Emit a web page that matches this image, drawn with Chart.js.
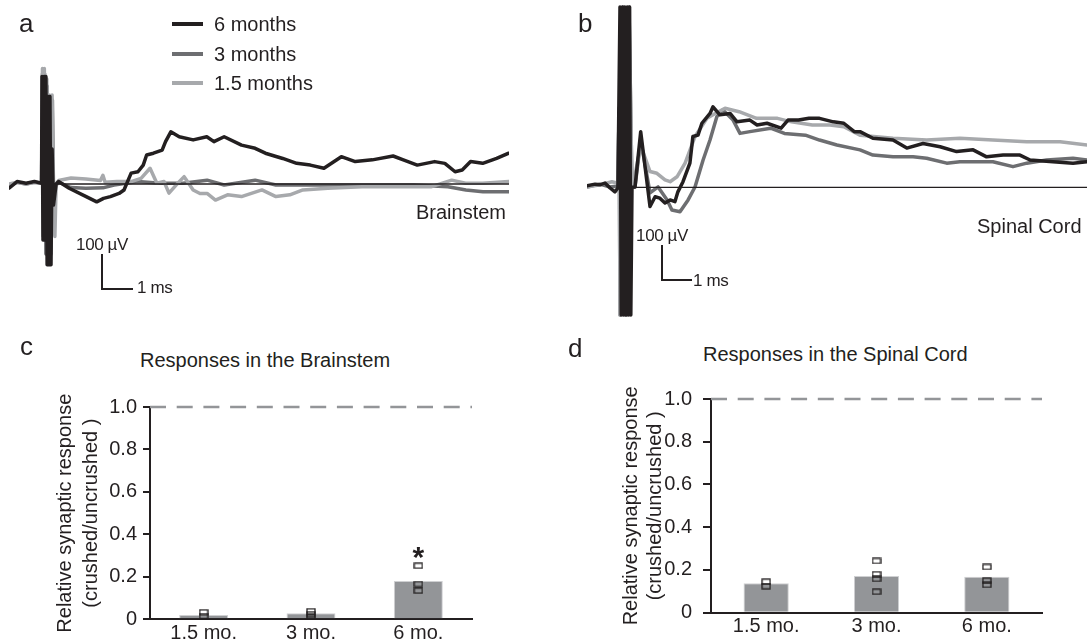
<!DOCTYPE html>
<html><head><meta charset="utf-8">
<script src="https://cdn.jsdelivr.net/npm/chart.js@4.4.1/dist/chart.umd.min.js"></script>
<style>
html,body{margin:0;padding:0;background:#fff;}
#fig{position:relative;width:1087px;height:642px;overflow:hidden;background:#fff;font-family:'Liberation Sans',Arial,Helvetica,sans-serif;color:#231f20;}
#fig canvas{position:absolute;}
.t{position:absolute;white-space:nowrap;line-height:1;}
.lg{position:absolute;height:4px;width:31px;left:172px;}
</style></head><body>
<div id="fig">
  <canvas id="ca" width="500" height="320" style="left:9px;top:0px"></canvas>
  <canvas id="cb" width="500" height="320" style="left:587px;top:0px"></canvas>
  <canvas id="cc" width="490" height="262" style="left:0px;top:380px"></canvas>
  <canvas id="cd" width="527" height="272" style="left:560px;top:370px"></canvas>

  <div class="t" style="left:19px;top:10px;font-size:26px">a</div>
  <div class="t" style="left:578px;top:10px;font-size:26px">b</div>
  <div class="t" style="left:20px;top:333px;font-size:26px">c</div>
  <div class="t" style="left:568px;top:335px;font-size:26px">d</div>

  <div class="lg" style="top:22px;background:#231f20"></div>
  <div class="lg" style="top:52px;background:#6d6e71"></div>
  <div class="lg" style="top:81px;background:#a7a9ac"></div>
  <div class="t" style="left:214px;top:14px;font-size:20px">6 months</div>
  <div class="t" style="left:214px;top:44px;font-size:20px">3 months</div>
  <div class="t" style="left:214px;top:73px;font-size:20px">1.5 months</div>

  <div class="t" style="left:416px;top:202px;font-size:20px">Brainstem</div>
  <div class="t" style="left:977px;top:216px;font-size:20px">Spinal Cord</div>

  <div class="t" style="left:102px;top:236px;font-size:17px;transform:translateX(-50%);letter-spacing:-0.4px">100 µV</div>
  <div class="t" style="left:137px;top:279px;font-size:17px;letter-spacing:-0.4px">1 ms</div>
  <div class="t" style="left:662px;top:227px;font-size:17px;transform:translateX(-50%);letter-spacing:-0.4px">100 µV</div>
  <div class="t" style="left:693px;top:272px;font-size:17px;letter-spacing:-0.4px">1 ms</div>

  <div class="t" style="left:140px;top:350px;font-size:20px">Responses in the Brainstem</div>
  <div class="t" style="left:703px;top:344px;font-size:20px">Responses in the Spinal Cord</div>
</div>
<script>
// ---------- DATA ----------
// Panel a: brainstem recordings, [time (ms), voltage (µV)]
const brainstem6mo = [[0,-12],[0.26,7],[0.55,2],[0.82,7],[1.05,2],
  [1.065,307],[1.097,-160],[1.13,307],[1.16,-160],[1.19,307],[1.23,-231],[1.26,250],[1.29,-231],[1.32,250],[1.355,-231],[1.39,100],[1.435,-60],[1.52,0],
  [1.6,7],[1.94,-12],[2.49,-36],[2.83,-51],[3.05,-41],[3.27,-36],[3.55,-27],[3.71,-17],[3.94,31],[4.16,35],[4.33,54],[4.44,83],[4.66,88],[4.94,97],
  [5.05,121],[5.22,149],[5.49,135],[5.94,126],[6.38,135],[6.61,121],[6.94,135],[7.5,111],[7.94,102],[8.27,88],[8.83,73],[9.28,59],[9.72,54],
  [10.16,45],[10.72,78],[11.17,64],[11.72,69],[12.39,80],[12.72,69],[13.17,54],[13.73,64],[14.06,59],[14.39,35],[14.62,40],[14.89,64],[15.28,59],[15.73,73],[16.12,88]];
const brainstem3mo = [[0,-5],[0.26,5],[0.55,0],[0.82,5],[1.05,2],
  [1.08,315],[1.11,-150],[1.15,315],[1.19,-200],[1.23,280],[1.27,-220],[1.31,250],[1.35,-200],[1.4,240],[1.45,-120],[1.5,-5],
  [1.6,5],[2.0,-10],[2.48,-12],[3.03,-11],[3.39,-3],[4.16,7],[4.87,2],[5.61,2],[6.39,11],[6.94,-3],[7.94,11],[8.61,-3],[9.71,-3],
  [10.84,-3],[11.94,-3],[13.06,-3],[14.16,-8],[14.74,-17],[15.29,-22],[16.12,-22]];
const brainstem1_5mo = [[0,0],[0.26,5],[0.55,0],[0.82,5],[1.05,3],
  [1.08,330],[1.11,-150],[1.14,330],[1.18,-150],[1.22,300],[1.26,-200],[1.3,254],[1.34,-200],[1.39,254],[1.44,-100],[1.48,-150],[1.52,0],
  [1.6,10],[2.0,17],[2.48,14],[2.95,10],[3.03,25],[3.1,5],[3.48,7],[3.94,7],[4.26,16],[4.55,45],[4.77,2],[5,7],[5.16,-26],[5.39,-3],
  [5.65,21],[5.94,-17],[6.16,-27],[6.39,-27],[6.66,-46],[7.05,-31],[7.5,-36],[8.16,-17],[8.61,-36],[9.06,-31],[9.48,-17],[10.28,-12],
  [11.39,-8],[12.5,-8],[13.61,-8],[14.28,11],[14.73,2],[15.28,2],[16.12,7]];

// Panel b: spinal cord recordings, [time (ms), voltage (µV)]
const spinal6mo = [[0,4],[0.27,9],[0.43,7],[0.6,12],[0.77,-2],[0.93,-13],[1.03,-2],
  [1.1,515],[1.14,-365],[1.18,515],[1.22,-365],[1.26,515],[1.3,-365],[1.34,515],[1.38,-365],[1.42,515],[1.46,-365],[1.5,0],
  [1.6,1],[1.79,159],[2.1,-55],[2.27,-27],[2.43,-31],[2.6,-45],[2.77,-36],[2.93,-41],[3.03,-13],[3.2,16],[3.43,69],[3.53,145],[3.7,149],
  [3.83,183],[4.1,211],[4.2,230],[4.43,207],[4.77,211],[5,187],[5.43,192],[5.67,178],[6,183],[6.47,169],[6.7,192],[7.05,192],[7.4,197],
  [7.75,197],[8.21,187],[8.56,183],[8.91,159],[9.1,159],[9.53,140],[10.2,135],[10.66,112],[11.2,125],[11.77,116],[12.32,102],[12.87,107],
  [13.32,87],[13.87,92],[14.43,92],[14.77,78],[15.53,73],[16.2,69],[16.67,73]];
const spinal3mo = [[0,1],[0.43,9],[0.77,1],[1.03,4],[1.07,227],[1.1,-365],[1.2,515],[1.3,-365],[1.4,515],[1.5,0],
  [1.6,1],[1.79,135],[2.1,-16],[2.37,1],[2.67,-36],[2.83,-65],[3.1,-70],[3.37,-36],[3.6,1],[3.87,78],[4.1,135],[4.33,202],[4.53,221],
  [4.87,192],[5.1,154],[5.43,159],[6.12,169],[6.58,154],[7.28,149],[7.75,135],[8.33,121],[9.1,107],[9.53,92],[10.2,87],[10.87,87],
  [11.32,83],[11.99,69],[12.43,73],[13.53,73],[14.2,59],[14.66,69],[15.32,78],[16.2,83],[16.67,78]];
const spinal1_5mo = [[0,1],[0.43,7],[0.83,16],[1.03,12],[1.07,225],[1.1,-365],[1.2,515],[1.3,-365],[1.4,515],[1.5,0],
  [1.6,35],[1.79,120],[2.1,45],[2.33,40],[2.6,21],[2.77,16],[3,30],[3.27,69],[3.6,145],[4,197],[4.2,207],[4.6,226],[5.07,216],
  [5.65,197],[6.35,197],[6.82,187],[7.51,178],[8.1,178],[8.56,173],[9.1,149],[10.2,140],[11.32,135],[12.43,140],[13.53,135],
  [14.66,130],[15.77,130],[16.67,121]];

const scaleBarMs = 1;     // horizontal scale bar
const scaleBarUv = 100;   // vertical scale bar

// Panels c, d: relative synaptic response (crushed/uncrushed)
const categories = ['1.5 mo.', '3 mo.', '6 mo.'];
const brainstemMeans = [0.02, 0.028, 0.18];
const brainstemPoints = [[0.033, 0.015], [0.038, 0.024, 0.01], [0.252, 0.166, 0.135]];
const brainstemSignif = ['', '', '*'];
const spinalMeans = [0.138, 0.172, 0.168];
const spinalPoints = [[0.145, 0.124], [0.242, 0.18, 0.158, 0.098], [0.214, 0.15, 0.13]];
const spinalSignif = ['', '', ''];
const yTickStep = 0.2;
const referenceLevel = 1.0;
const signifLevel = 0.323;
const yTitle = ['Relative synaptic response', '(crushed/uncrushed )'];

// ---------- DRAWING ----------
const INK = '#231f20', C6 = '#231f20', C3 = '#6d6e71', C15 = '#a7a9ac';
const FONT = "'Liberation Sans', Arial, Helvetica, sans-serif";
Chart.defaults.font.family = FONT;
Chart.defaults.color = INK;

const xy = arr => arr.map(p => ({x: p[0], y: p[1]}));

function traceChart(id, s, cfg) {
  return new Chart(document.getElementById(id), {
    type: 'line',
    data: { datasets: [
      {label: 'baseline', data: xy([[cfg.baseStart, 0], [cfg.xMax, 0]]), borderColor: INK, borderWidth: 1.3, order: -1},
      {label: 'scale', data: xy([[cfg.barT, cfg.barV], [cfg.barT, cfg.barV - scaleBarUv], [cfg.barT + scaleBarMs, cfg.barV - scaleBarUv]]),
        borderColor: INK, borderWidth: 2, order: -2, borderJoinStyle: 'miter', borderCapStyle: 'butt'},
      {label: '6 months', data: xy(s[0]), borderColor: C6, order: 0},
      {label: '1.5 months', data: xy(s[2]), borderColor: C15, order: 1},
      {label: '3 months', data: xy(s[1]), borderColor: C3, order: 2}
    ]},
    options: {
      responsive: false, animation: false, events: [],
      layout: {padding: 0},
      elements: {point: {radius: 0}, line: {tension: 0, borderWidth: 3.5, borderJoinStyle: 'round', borderCapStyle: 'round', fill: false}},
      plugins: {legend: {display: false}, tooltip: {enabled: false}},
      scales: {
        x: {type: 'linear', display: false, min: 0, max: cfg.xMax},
        y: {type: 'linear', display: false, min: cfg.yMin, max: cfg.yMax}
      }
    }
  });
}

traceChart('ca', [brainstem6mo, brainstem3mo, brainstem1_5mo],
  {xMax: 500 / 31, yMin: -(320 - 184) / 0.35, yMax: 184 / 0.35, baseStart: 1.5, barT: 3.0, barV: -200});
traceChart('cb', [spinal6mo, spinal3mo, spinal1_5mo],
  {xMax: 500 / 30, yMin: -(320 - 187.3) / 0.35, yMax: 187.3 / 0.35, baseStart: 1.5, barT: 2.5, barV: -165});

function makeBox() {
  const c = document.createElement('canvas');
  c.width = 10; c.height = 7;
  const g = c.getContext('2d');
  g.strokeStyle = INK; g.lineWidth = 1.3;
  g.strokeRect(1, 1, 8, 5);
  return c;
}
const boxMarker = makeBox();

// reference (dashed) line at the uncrushed level + significance marks, drawn through the chart's scales
const annotPlugin = {
  id: 'annot',
  beforeDatasetsDraw(chart, args, opts) {
    const ctx = chart.ctx, area = chart.chartArea, ys = chart.scales.y;
    const y = ys.getPixelForValue(opts.level);
    ctx.save();
    ctx.strokeStyle = '#939598'; ctx.lineWidth = 2.5; ctx.setLineDash([16, 10.7]);
    ctx.beginPath(); ctx.moveTo(area.left, y); ctx.lineTo(area.right, y); ctx.stroke();
    ctx.restore();
  },
  afterDatasetsDraw(chart, args, opts) {
    const ctx = chart.ctx, xs = chart.scales.x, ys = chart.scales.y;
    (opts.marks || []).forEach((m, i) => {
      if (!m) return;
      ctx.save();
      ctx.font = 'bold 30px ' + FONT;
      ctx.fillStyle = INK; ctx.textAlign = 'center'; ctx.textBaseline = 'alphabetic';
      ctx.fillText(m, xs.getPixelForValue(i), ys.getPixelForValue(opts.markLevel) + 16);
      ctx.restore();
    });
  }
};

function barChart(id, means, points, signif, cfg) {
  const pts = [];
  points.forEach((arr, i) => arr.forEach(v => pts.push({x: categories[i], y: v})));
  return new Chart(document.getElementById(id), {
    type: 'bar',
    plugins: [annotPlugin],
    data: { labels: categories, datasets: [
      {type: 'bar', label: 'mean', data: means, backgroundColor: '#939598', borderColor: '#cfd0d2', borderWidth: 1,
        barPercentage: cfg.barPct, categoryPercentage: 1, order: 2},
      {type: 'line', label: 'animals', data: pts, showLine: false, pointStyle: boxMarker, pointRadius: 4, order: 0}
    ]},
    options: {
      responsive: false, animation: false, events: [],
      layout: {padding: {top: cfg.padTop, right: cfg.padRight, left: 0, bottom: 0}},
      plugins: {legend: {display: false}, tooltip: {enabled: false},
        annot: {level: referenceLevel, marks: signif, markLevel: signifLevel}},
      scales: {
        x: {type: 'category', offset: true,
          grid: {display: false, drawTicks: false},
          border: {display: true, color: INK, width: 2},
          ticks: {color: INK, font: {size: 20}, padding: 2, maxRotation: 0, autoSkip: false},
          afterFit: s => { s.height = cfg.xHeight; }},
        y: {type: 'linear', min: 0, max: referenceLevel,
          ticks: {stepSize: yTickStep, color: INK, font: {size: 20}, padding: cfg.tickPad,
            callback: v => Math.abs(v) < 1e-9 ? '0' : v.toFixed(1)},
          grid: {display: true, drawOnChartArea: false, drawTicks: true, tickLength: cfg.tickLen, tickColor: INK, tickWidth: 2, color: INK, lineWidth: 2},
          border: {display: true, color: INK, width: 2},
          title: {display: true, text: yTitle, color: INK, font: {size: 20, lineHeight: cfg.titleLH}, padding: {top: cfg.titlePad, bottom: 0}},
          afterFit: s => { s.width = cfg.yWidth; }}
      }
    }
  });
}

barChart('cc', brainstemMeans, brainstemPoints, brainstemSignif,
  {barPct: 0.456, padTop: 27, padRight: 18, xHeight: 22.7, yWidth: 150, tickPad: 6, tickLen: 7, titleLH: 1.3, titlePad: 52.7});
barChart('cd', spinalMeans, spinalPoints, spinalSignif,
  {barPct: 0.41, padTop: 29, padRight: 45, xHeight: 29.3, yWidth: 151, tickPad: 11, tickLen: 8, titleLH: 1.2, titlePad: 59});
</script>
</body></html>
